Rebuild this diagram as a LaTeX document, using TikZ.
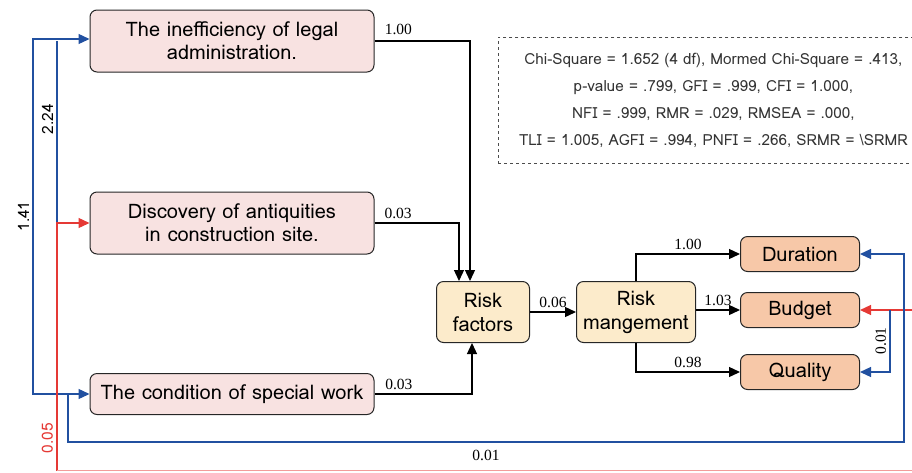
\documentclass[tikz,border=0pt]{standalone}
\usepackage{fontspec}
\setmainfont{Liberation Serif}
\newfontfamily\lomafont{Loma}
\usetikzlibrary{arrows.meta,positioning}
\definecolor{pathblue}{HTML}{2150A0}
\definecolor{pathred}{HTML}{E53935}
\definecolor{causefill}{HTML}{F8E2E1}
\definecolor{riskfill}{HTML}{FCEBCB}
\definecolor{outfill}{HTML}{F7C8A8}

\tikzset{
  factor/.style={draw=black!85, rounded corners=7pt, line width=1pt, fill=causefill, minimum width=284pt, align=center, font=\lomafont\fontsize{20}{23}\selectfont},
  riskbox/.style={draw=black!85, rounded corners=7pt, line width=1pt, fill=riskfill, minimum height=61pt, align=center, font=\lomafont\fontsize{20}{24}\selectfont},
  outbox/.style={draw=black!85, rounded corners=7pt, line width=1pt, fill=outfill, minimum width=119pt, minimum height=35pt, font=\lomafont\fontsize{20}{23}\selectfont},
  coef/.style={font=\fontsize{15.5}{17}\selectfont},
  covlabel/.style={font=\lomafont\fontsize{15.5}{17}\selectfont},
  covblue/.style={draw=pathblue, line width=1.3pt},
  covred/.style={draw=pathred, line width=1.3pt},
}

\begin{document}
\begin{tikzpicture}[x=1pt, y=-1pt, >={Triangle[length=11pt,width=10pt]}, line width=1.3pt]
	\useasboundingbox (0,0) rectangle (912,472);
	% exogenous factors
	\node[factor, minimum height=62pt] (ineff) at (232,41) {The inefficiency of legal\\administration.};
	\node[factor, minimum height=62pt] (antiq) at (232,223) {Discovery of antiquities\\in construction site.};
	\node[factor, minimum height=41pt] (special) at (232,394) {The condition of special work};
	% mediators
	\node[riskbox, minimum width=93pt] (riskfac) at (483,312) {Risk\\factors};
	\node[riskbox, minimum width=119pt] (riskman) at (636,312) {Risk\\mangement};
	% outcomes
	\node[outbox] (duration) at (800,254) {Duration};
	\node[outbox] (budget) at (800,310) {Budget};
	\node[outbox] (quality) at (800,372) {Quality};
	% fit indices
	\node[draw=black!70, dashed, line width=0.8pt, anchor=north west, minimum width=430pt, minimum height=126pt,
	  align=center, font=\lomafont\fontsize{15.3}{27.3}\selectfont, text=black!80] (fitbox) at (498,37)
	  {Chi-Square = 1.652 (4 df), Mormed Chi-Square = .413,\\p-value = .799, GFI = .999, CFI = 1.000,\\NFI = .999, RMR = .029, RMSEA = .000,\\TLI = 1.005, AGFI = .994, PNFI = .266, SRMR = \textbackslash SRMR};

	% paths
	\draw[->] (ineff.east) -- (470,41) node[coef, pos=0.25, above=2pt] {1.00} -- (470,281);
	\draw[->] (antiq.east) -- (459,223) node[coef, pos=0.28, above] {0.03} -- (459,281);
	\draw[->] (special.east) -- (472,394) node[coef, pos=0.25, above] {0.03} -- (472,343);
	\draw[->] (riskfac) -- (riskman) node[coef, midway, above] {0.06};
	\draw[->] (riskman.north) |- (duration.west) node[coef, pos=0.75, above] {1.00};
	\draw[->] (riskman.east |- budget.west) -- (budget.west) node[coef, midway, above] {1.03};
	\draw[->] (riskman.south) |- (quality.west) node[coef, pos=0.75, above] {0.98};

	% covariances
	\coordinate (l1) at (33,39);
	\coordinate (l2) at (57,41);
	\coordinate (l3) at (68,442);
	\coordinate (r1) at (904,442);
	\coordinate (r2) at (890,310);
	\coordinate (lowred) at (57,470.5);
	\coordinate (rightred) at (930,470.5);
	\draw[covblue, ->] (l1 |- special.west) -- (l1) node[covlabel, midway, above, sloped] {1.41} -- (ineff.west |- l1);
	\draw[covblue, ->] (l1) -- (l1 |- special.west) -- (special.west);
	\draw[covblue] (57,223) -- (l2) node[covlabel, pos=0.57, above, sloped] {2.24};
	\draw[covred, ->] (lowred) -- (57,223) node[covlabel, pos=0.13, above, sloped, text=pathred] {0.05} -- (antiq.west);
	\draw[covred, draw=pathred!50] (lowred) -- (rightred);
	\draw[covred, ->] (rightred |- budget.east) -- (budget.east);
	\draw[covblue, ->] (68,394) -- (l3) -- (r1) node[coef, midway, below=4pt] {0.01} -- (r1 |- duration.east) -- (duration.east);
	\draw[covblue, ->] (r2) -- (r2 |- quality.east) -- (quality.east);
	\path (r2 |- quality.east) -- (r2) node[coef, midway, above, sloped] {0.01};
\end{tikzpicture}
\end{document}
